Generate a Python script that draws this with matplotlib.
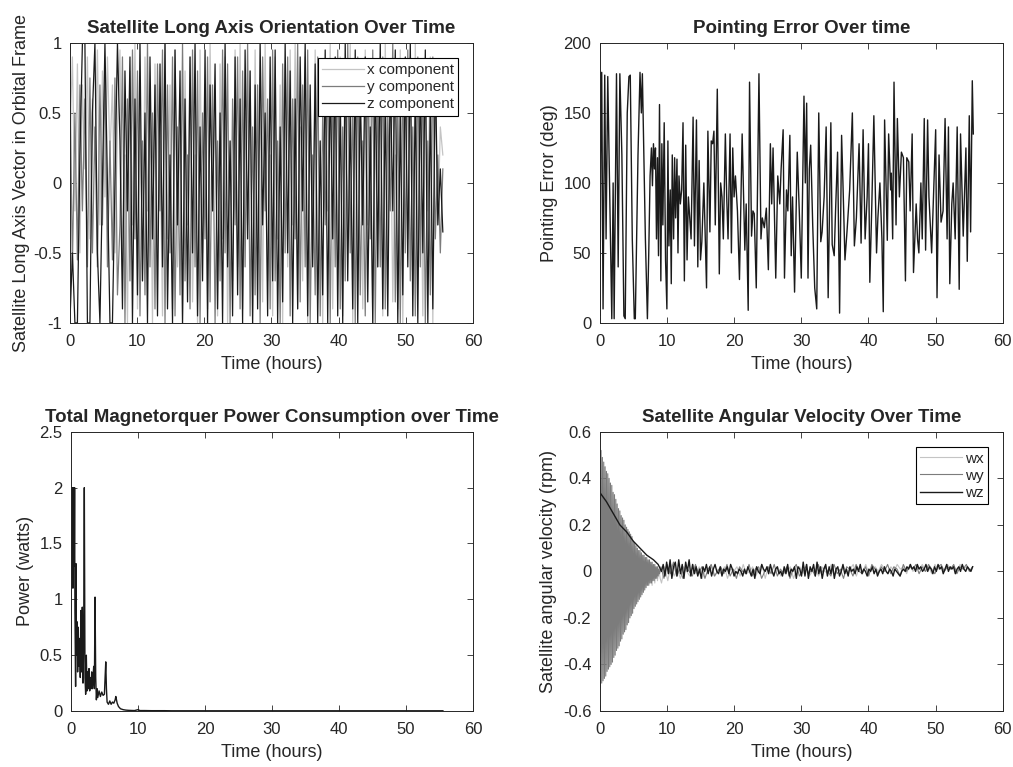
import numpy as np
import matplotlib.pyplot as plt
from matplotlib.ticker import FuncFormatter

#data
#long axis orientation (unit vector components), sampled evenly over the run
lax_x = [0.3, 0.9, -0.2, 0.85, -0.5, 0.7, 0.1, 0.9, -0.4, 0.6, 0.2, 0.95, -0.3, 0.8, -0.1, 0.9, 0.2, 0.7, -0.5, 0.4,
         0.95, -0.6, 0.2, -1, 0.8, -0.3, 1, -0.9, 0.5, -0.7,
         0.9, -0.2, 0.6, -1, 0.85, -0.5, 0.3, -0.95, 1, -0.4,
         0.7, -0.9, 0.95, -0.6, 0.4, -1, 0.8, -0.3, 0.9, -0.85,
         0.2, -1, 0.95, -0.5, 0.7, -0.9, 1, -0.2, 0.6, -0.95,
         0.85, -0.4, 0.9, -1, 0.3, -0.7, 0.95, -0.6, 1, -0.9,
         0.5, -0.3, 0.8, -1, 0.95, -0.5, 0.6, -0.85, 1, -0.7,
         0.2, -0.95, 0.9, -0.4, 0.7, -1, 0.85, -0.6, 0.95, -0.3,
         1, -0.9, 0.4, -0.7, 0.9, -1, 0.6, -0.5, 0.95, -0.8,
         0.3, -1, 0.85, -0.2, 1, -0.9, 0.7, -0.6, 0.9, -0.95,
         0.5, -0.4, 1, -1, 0.8, -0.7, 0.6, -0.9, 0.95, -0.3,
         0.85, -1, 0.4, -0.6, 0.9, -0.95, 1, -0.5, 0.7, -0.85,
         0.2, -0.9, 0.95, -1, 0.6, -0.4, 0.9, -0.8, 1, -0.6,
         0.5, -0.95, 0.8, -0.2, 0.9, -1, 0.7, -0.3, 0.4, 0.2]
lax_y = [0.8, -0.6, 0.5, -0.55, 0.7, -0.2, 0.6, -0.6, 0.75, -0.5, 0.4, -0.6, 0.7, -0.3, 0.8, -0.6, 0.3, -0.55, 0.75, -0.8,
         -0.3, 0.9, -1, 0.6, -0.7, 0.95, -0.4, 0.8, -0.95, 0.3,
         -0.8, 1, -0.6, 0.5, -0.9, 0.85, -0.2, 0.95, -1, 0.7,
         -0.5, 0.9, -0.95, 0.4, -0.8, 1, -0.7, 0.2, -0.9, 0.95,
         -0.6, 0.8, -1, 0.5, -0.4, 0.9, -0.85, 0.7, -1, 0.3,
         -0.7, 0.95, -0.5, 0.85, -1, 0.6, -0.3, 0.9, -0.9, 0.8,
         -0.6, 1, -0.95, 0.4, -0.8, 0.7, -1, 0.9, -0.2, 0.6,
         -0.9, 0.95, -0.7, 0.3, -1, 0.85, -0.5, 0.9, -0.95, 0.6,
         -0.4, 1, -0.85, 0.7, -0.6, 0.95, -1, 0.2, -0.8, 0.9,
         -0.95, 0.5, -0.3, 0.85, -1, 0.8, -0.6, 0.95, -0.9, 0.4,
         -0.7, 1, -0.5, 0.6, -1, 0.9, -0.8, 0.3, -0.95, 0.85,
         -0.4, 0.95, -1, 0.7, -0.6, 0.9, -0.9, 0.5, -0.2, 1,
         -0.85, 0.6, -1, 0.8, -0.5, 0.95, -0.7, 0.4, -0.95, 0.9,
         -0.6, 0.85, -1, 0.3, -0.8, 0.9, -0.4, 0.2, -0.5, 0.1]
lax_z = [-1, -0.5, -1, -1, 0.2, 1, 1, -1, -1, 0.5, 1, -0.5, -1, 0, 1, 0, -1, -1, 0, 1,
         0.3, -0.9, 0.8, -0.2, 0.9, -1, 0.6, -0.8, 1, -0.7,
         0.5, -1, 0.9, -0.4, 0.7, -0.95, 0.85, -0.6, 1, -0.9,
         0.2, -1, 0.95, -0.3, 0.8, -1, 0.6, -0.85, 0.9, -0.5,
         1, -0.95, 0.4, -0.7, 0.95, -1, 0.7, -0.2, 0.85, -0.9,
         0.5, -1, 1, -0.6, 0.3, -0.95, 0.9, -0.8, 0.6, -1,
         0.95, -0.4, 0.8, -1, 0.7, -0.9, 1, -0.3, 0.5, -0.95,
         0.9, -0.7, 0.95, -1, 0.4, -0.85, 1, -0.5, 0.8, -1,
         0.6, -0.9, 0.9, -0.2, 1, -0.95, 0.7, -0.6, 0.85, -1,
         0.3, -0.8, 0.95, -1, 0.8, -0.4, 0.9, -0.95, 0.6, -1,
         1, -0.7, 0.5, -0.9, 0.95, -1, 0.7, -0.3, 0.9, -0.85,
         0.4, -1, 0.85, -0.6, 1, -0.9, 0.6, -0.95, 0.8, -0.2,
         0.95, -1, 0.5, -0.8, 0.9, -0.6, 1, -0.95, 0.7, -1,
         0.8, -0.5, 0.95, -1, 0.6, -0.9, 0.85, -0.3, 0.1, -0.35]

#pointing error (hours, deg)
pe_time = [0.0, 0.05, 0.15, 0.3, 0.5, 0.75, 0.95, 1.2, 1.5, 1.8, 2.0, 2.15, 2.5, 2.75, 3.0, 3.3, 3.6, 3.8,
           4.1, 4.35, 4.55, 4.85, 5.15, 5.3, 5.7, 6.0, 6.2, 6.35, 6.5, 6.8, 7.1, 7.3,
           7.5, 7.7, 7.85, 8.0, 8.15, 8.3, 8.45, 8.6, 8.75, 8.9, 9.1, 9.25, 9.4, 9.6, 9.8, 10.0,
           10.15, 10.3, 10.5, 10.65, 10.8, 11.0, 11.15, 11.3, 11.5, 11.65, 11.8, 12.0, 12.2, 12.4,
           12.6, 12.8, 13.0, 13.2, 13.4, 13.6, 13.9, 14.1, 14.4, 14.6, 14.8, 15.0, 15.2, 15.5,
           15.9, 16.1, 16.4, 16.6, 16.8, 17.0, 17.2, 17.5, 17.8, 18.0, 18.2, 18.4, 18.7, 18.9,
           19.1, 19.4, 19.6, 19.8, 20.0, 20.2, 20.5, 20.8, 21.2, 21.6, 21.8, 22.1, 22.3, 22.6,
           22.8, 23.0, 23.3, 23.7, 24.0, 24.2, 24.5, 24.8, 25.1, 25.4, 25.6, 25.8, 26.2, 26.5,
           26.8, 27.0, 27.3, 27.5, 27.8, 28.0, 28.3, 28.5, 28.7, 29.0, 29.4, 29.7, 30.0, 30.4,
           30.6, 30.8, 31.0, 31.2, 31.4, 31.7, 32.0, 32.3, 32.6, 32.9, 33.1, 33.4, 33.7, 34.0,
           34.4, 34.6, 34.9, 35.1, 35.4, 35.7, 36.0, 36.2, 36.5, 36.8, 37.2, 37.6, 37.9, 38.2,
           38.6, 38.9, 39.2, 39.5, 39.8, 40.0, 40.2, 40.5, 40.8, 41.2, 41.4, 41.7, 42.0, 42.2,
           42.4, 42.8, 43.0, 43.3, 43.4, 43.6, 43.8, 44.1, 44.3, 44.6, 44.9, 45.2, 45.5, 45.7,
           46.0, 46.2, 46.5, 46.7, 47.1, 47.3, 47.5, 47.8, 48.0, 48.3, 48.5, 48.8, 49.0, 49.4,
           49.7, 50.0, 50.2, 50.5, 50.8, 51.1, 51.4, 51.7, 51.9, 52.1, 52.4, 52.6, 52.9, 53.2,
           53.5, 53.7, 54.1, 54.5, 54.7, 55.0, 55.2, 55.45, 55.6]
pe_deg = [180, 5, 120, 179, 10, 177, 60, 176, 90, 3, 100, 3, 178, 40, 178, 120, 5, 3,
          150, 176, 177, 60, 3, 3, 120, 179, 150, 178, 140, 60, 3, 50,
          105, 125, 98, 128, 110, 125, 60, 118, 48, 156, 30, 128, 70, 143, 45, 10,
          130, 55, 95, 28, 120, 60, 118, 75, 117, 50, 105, 85, 95, 143,
          30, 127, 45, 90, 75, 60, 147, 55, 145, 40, 116, 45, 58, 100,
          25, 137, 65, 130, 128, 137, 70, 167, 35, 100, 90, 60, 135, 90,
          60, 135, 50, 125, 90, 105, 80, 31, 135, 52, 85, 9, 172, 62,
          80, 78, 25, 178, 60, 75, 68, 82, 38, 128, 85, 125, 32, 105,
          85, 110, 138, 32, 95, 80, 134, 48, 90, 22, 122, 80, 32, 162,
          100, 157, 32, 110, 127, 70, 25, 10, 150, 58, 65, 90, 140, 18,
          143, 56, 48, 80, 122, 7, 134, 100, 45, 65, 95, 150, 55, 75,
          128, 57, 138, 60, 90, 128, 29, 85, 148, 50, 75, 100, 60, 8,
          145, 59, 135, 95, 107, 60, 172, 70, 146, 90, 122, 118, 30, 118,
          115, 80, 135, 36, 85, 60, 50, 100, 60, 146, 52, 145, 90, 50,
          95, 138, 18, 120, 72, 80, 146, 60, 140, 28, 85, 100, 60, 140,
          24, 135, 62, 125, 44, 148, 65, 173, 135]

#total magnetorquer power (hours, watts)
pw_time = [0.0, 0.05, 0.1, 0.15, 0.2, 0.25, 0.3, 0.35, 0.4, 0.45, 0.5, 0.55, 0.6, 0.7, 0.75, 0.8, 0.9, 1.0,
           1.1, 1.2, 1.3, 1.4, 1.5, 1.6, 1.7, 1.8, 1.9, 2.0, 2.1, 2.2, 2.3, 2.4, 2.5, 2.6, 2.7, 2.8,
           2.9, 3.0, 3.1, 3.2, 3.3, 3.4, 3.5, 3.6, 3.7, 3.8, 3.9, 4.0, 4.2, 4.4, 4.6, 4.8, 5.0, 5.1,
           5.2, 5.3, 5.4, 5.6, 5.8, 6.0, 6.2, 6.4, 6.6, 6.7, 6.9, 7.1, 7.4, 7.8, 8.2, 8.6, 9.0, 9.5,
           10.0, 10.3, 11, 12, 13, 14, 15, 17, 20, 25, 30, 35, 40, 45, 50, 55.5]
pw_watt = [0.7, 2.0, 1.2, 2.0, 1.4, 2.0, 1.1, 2.0, 1.5, 2.0, 1.3, 2.0, 0.9, 0.22, 1.32, 0.5, 0.8, 0.35,
           0.75, 0.4, 0.65, 0.3, 0.9, 0.35, 0.93, 0.25, 0.6, 2.0, 0.3, 0.15, 0.5, 0.18, 0.35, 0.2, 0.38, 0.18,
           0.3, 0.2, 0.35, 0.2, 0.3, 0.4, 0.2, 1.02, 0.3, 0.1, 0.2, 0.12, 0.18, 0.13, 0.17, 0.14, 0.15, 0.3,
           0.44, 0.2, 0.08, 0.06, 0.09, 0.06, 0.08, 0.07, 0.1, 0.13, 0.07, 0.04, 0.02, 0.012, 0.008, 0.006, 0.005, 0.004,
           0.012, 0.004, 0.004, 0.003, 0.003, 0.003, 0.002, 0.002, 0.002, 0.002, 0.002, 0.002, 0.002, 0.002, 0.002, 0.002]

#angular velocity (rpm): detumbling part (0-9 h) and the residual after it
wx_detumble = [0.3, -0.35, 0.28, -0.33, 0.27, -0.3, 0.25, -0.28, 0.23, -0.26,
               0.21, -0.24, 0.2, -0.22, 0.18, -0.21, 0.17, -0.19, 0.15, -0.17,
               0.14, -0.16, 0.12, -0.14, 0.11, -0.12, 0.1, -0.11, 0.08, -0.09,
               0.07, -0.08, 0.06, -0.07, 0.05, -0.06, 0.04, -0.05, 0.03, -0.06,
               0.02, -0.05, 0.02, -0.04, 0.01, -0.03]
wy_detumble = [0.5, -0.5, 0.52, -0.48, 0.49, -0.47, 0.47, -0.46, 0.45, -0.45,
               0.43, -0.43, 0.42, -0.42, 0.4, -0.41, 0.38, -0.4, 0.37, -0.39,
               0.34, -0.37, 0.33, -0.36, 0.31, -0.34, 0.29, -0.33, 0.27, -0.32,
               0.26, -0.3, 0.24, -0.29, 0.23, -0.27, 0.22, -0.26, 0.2, -0.25,
               0.19, -0.23, 0.18, -0.22, 0.17, -0.2, 0.16, -0.19, 0.15, -0.18,
               0.13, -0.16, 0.12, -0.15, 0.11, -0.14, 0.1, -0.13, 0.09, -0.12,
               0.09, -0.11, 0.08, -0.1, 0.07, -0.09, 0.07, -0.08, 0.06, -0.07,
               0.06, -0.06, 0.05, -0.06, 0.05, -0.05, 0.04, -0.05, 0.04, -0.04,
               0.03, -0.04, 0.03, -0.03, 0.02, -0.03, 0.02, -0.02, 0.01, -0.01, 0.0]
wz_detumble_time = [0.0, 0.5, 1.0, 2.0, 3.0, 4.0, 5.0, 6.0, 7.0, 8.0, 8.7, 9.2]
wz_detumble = [0.34, 0.32, 0.30, 0.25, 0.20, 0.17, 0.13, 0.10, 0.07, 0.05, 0.03, 0.0]

wx_residual = [-0.05, 0.02, -0.04, 0.03, -0.02, 0.01, -0.03, 0.02, 0.0, -0.02,
               0.03, -0.01, 0.02, -0.03, 0.01, 0.0, 0.02, -0.02, 0.01, -0.01,
               0.02, -0.03, 0.01, 0.0, 0.02, -0.02, 0.03, -0.01, 0.0, 0.02,
               -0.02, 0.01, 0.03, -0.03, 0.02, 0.0, -0.01, 0.02, -0.02, 0.01,
               0.0, 0.02, -0.03, 0.01, 0.02, -0.01, 0.03, -0.02, 0.0, 0.01,
               -0.02, 0.02, 0.0, -0.01, 0.03, -0.02, 0.01, 0.0, 0.02, -0.01,
               0.01, 0.03, -0.02, 0.02, 0.0, 0.03, -0.01, 0.01, 0.02, 0.0,
               0.03, 0.01, -0.01, 0.02, 0.0, 0.03, 0.01, 0.02, -0.01, 0.03,
               0.0, 0.02, 0.01, 0.03, 0.0, 0.02, -0.01, 0.03, 0.01, 0.02,
               0.0, 0.03, 0.01, 0.02, 0.0, 0.03, 0.01, 0.02, 0.0, 0.02]
wy_residual = [0.02, -0.03, 0.03, -0.01, 0.04, -0.02, 0.01, -0.03, 0.02, 0.0,
               -0.02, 0.03, -0.01, 0.02, -0.03, 0.01, 0.03, -0.02, 0.0, 0.02,
               -0.01, 0.03, -0.02, 0.01, -0.03, 0.02, 0.0, -0.01, 0.03, -0.02,
               0.01, 0.02, -0.03, 0.0, 0.02, -0.01, 0.03, -0.02, 0.01, -0.01,
               0.02, -0.03, 0.01, 0.03, -0.02, 0.0, 0.02, -0.01, 0.01, -0.02,
               0.03, -0.01, 0.02, 0.0, -0.02, 0.03, -0.01, 0.01, -0.03, 0.02,
               0.01, -0.02, 0.03, 0.0, -0.01, 0.02, -0.02, 0.03, 0.01, -0.01,
               0.02, 0.0, 0.03, -0.01, 0.02, 0.01, -0.02, 0.03, 0.0, 0.02,
               0.01, 0.03, -0.01, 0.02, 0.0, 0.03, 0.01, -0.01, 0.02, 0.03,
               0.0, 0.02, 0.01, 0.03, -0.01, 0.02, 0.01, 0.03, 0.0, 0.02]
wz_residual = [0.03, -0.02, 0.04, -0.01, 0.05, -0.03, 0.02, 0.04, -0.02, 0.05,
               -0.01, 0.03, -0.03, 0.04, 0.0, 0.05, -0.02, 0.03, -0.01, 0.02,
               -0.02, 0.01, -0.03, 0.02, 0.0, 0.03, -0.01, 0.02, -0.02, 0.01,
               0.03, 0.0, -0.01, 0.02, -0.02, 0.01, 0.0, 0.02, -0.01, 0.03,
               0.01, -0.02, 0.0, -0.01, 0.01, 0.0, -0.02, 0.01, -0.01, 0.02,
               0.0, -0.02, 0.01, -0.03, 0.02, 0.0, -0.01, 0.03, 0.01, 0.0,
               0.02, -0.01, 0.03, 0.0, -0.02, 0.01, 0.02, -0.01, 0.0, -0.02,
               0.02, -0.01, 0.03, -0.02, 0.01, 0.0, 0.02, -0.03, 0.02, 0.01,
               -0.02, 0.04, -0.02, 0.03, -0.03, 0.02, 0.0, 0.03, -0.02, 0.04,
               -0.01, 0.02, -0.03, 0.01, 0.03, -0.02, 0.02, -0.01, 0.03, -0.03,
               0.01, 0.02, -0.02, 0.0, 0.03, -0.01, 0.01, -0.02, 0.02, 0.0,
               0.01, -0.01, 0.02, 0.0, 0.03, -0.01, 0.01, 0.0, -0.02, 0.01,
               0.0, 0.02, -0.01, 0.01, -0.02, 0.0, 0.01, -0.01, 0.02, 0.0,
               -0.01, 0.01, 0.0, -0.02, 0.01, 0.0, -0.01, -0.02, 0.0, 0.01,
               0.0, 0.02, 0.01, 0.03, 0.01, 0.02, 0.0, 0.03, 0.01, 0.02,
               0.0, 0.01, 0.03, 0.0, 0.02, 0.01, -0.01, 0.02, 0.0, 0.03,
               0.01, 0.02, -0.01, 0.01, 0.03, 0.0, 0.02, 0.01, 0.02, -0.01,
               0.01, 0.02, 0.0, 0.03, 0.01, 0.0, 0.02, 0.01, 0.0, 0.02]

#even sampling of the listed series over the run
t_end = 55.5
lax_time = np.linspace(0, t_end, len(lax_z))
wx_time = np.concatenate([np.linspace(0, 9.0, len(wx_detumble)), np.linspace(9.2, t_end, len(wx_residual))])
wy_time = np.concatenate([np.linspace(0, 9.0, len(wy_detumble)), np.linspace(9.1, t_end, len(wy_residual))])
wz_time = np.concatenate([wz_detumble_time, np.linspace(9.45, t_end, len(wz_residual))])
wx = wx_detumble + wx_residual
wy = wy_detumble + wy_residual
wz = wz_detumble + wz_residual

#matlab-like look
plt.rcParams['font.family'] = ['Liberation Sans', 'DejaVu Sans']
ink = '#262626'
plt.rcParams['axes.edgecolor'] = ink
plt.rcParams['xtick.color'] = ink
plt.rcParams['ytick.color'] = ink
plt.rcParams['text.color'] = ink
plt.rcParams['axes.labelcolor'] = ink
c_x, c_y, c_z = '#c4c4c4', '#7c7c7c', '#1a1a1a'

fig = plt.figure(figsize=(10.13, 7.67), dpi=100)
ax_tl = fig.add_axes([0.069, 0.579, 0.398, 0.365])
ax_tr = fig.add_axes([0.592, 0.579, 0.398, 0.365])
ax_bl = fig.add_axes([0.070, 0.073, 0.397, 0.364])
ax_br = fig.add_axes([0.592, 0.073, 0.398, 0.364])

gfmt = FuncFormatter(lambda v, p: '%g' % round(v, 6))
title_kw = dict(fontsize=13.5, fontweight='bold', pad=7)

#long axis orientation
ax_tl.plot(lax_time, lax_x, color=c_x, lw=0.9, label='x component')
ax_tl.plot(lax_time, lax_y, color=c_y, lw=0.9, label='y component')
ax_tl.plot(lax_time, lax_z, color=c_z, lw=0.9, label='z component')
ax_tl.set_ylim(-1, 1)
ax_tl.set_yticks([-1, -0.5, 0, 0.5, 1])
ax_tl.set_title('Satellite Long Axis Orientation Over Time', **title_kw)
ax_tl.set_ylabel('Satellite Long Axis Vector in Orbital Frame', fontsize=13, labelpad=2)

#pointing error
ax_tr.plot(pe_time, pe_deg, color=c_z, lw=1.0)
ax_tr.set_ylim(0, 200)
ax_tr.set_yticks([0, 50, 100, 150, 200])
ax_tr.set_title('Pointing Error Over time', **title_kw)
ax_tr.set_ylabel('Pointing Error (deg)', fontsize=13)

#power
ax_bl.plot(pw_time, pw_watt, color=c_z, lw=1.0)
ax_bl.set_ylim(0, 2.5)
ax_bl.set_yticks([0, 0.5, 1, 1.5, 2, 2.5])
ax_bl.set_title('Total Magnetorquer Power Consumption over Time', **title_kw)
ax_bl.set_ylabel('Power (watts)', fontsize=13)

#angular velocity
ax_br.plot(wx_time, wx, color=c_x, lw=0.8, label='wx')
ax_br.plot(wy_time, wy, color=c_y, lw=0.8, label='wy')
ax_br.plot(wz_time, wz, color=c_z, lw=1.0, label='wz')
ax_br.set_ylim(-0.6, 0.6)
ax_br.set_yticks([-0.6, -0.4, -0.2, 0, 0.2, 0.4, 0.6])
ax_br.set_title('Satellite Angular Velocity Over Time', **title_kw)
ax_br.set_ylabel('Satellite angular velocity (rpm)', fontsize=13)

for ax in [ax_tl, ax_tr, ax_bl, ax_br]:
    ax.set_xlim(0, 60)
    ax.set_xticks([0, 10, 20, 30, 40, 50, 60])
    ax.set_xlabel('Time (hours)', fontsize=13, labelpad=5)
    ax.yaxis.set_major_formatter(gfmt)
    ax.tick_params(direction='in', top=True, right=True, length=4, width=0.6, labelsize=12)
    ax.tick_params(axis='x', pad=8)
    ax.tick_params(axis='y', pad=6)
    for s in ax.spines.values():
        s.set_linewidth(0.7)

for ax in [ax_tl, ax_br]:
    leg = ax.legend(loc='upper right', bbox_to_anchor=(0.963, 0.945), fontsize=11, fancybox=False,
                    framealpha=1, edgecolor='black', borderpad=0.3, handlelength=2.7,
                    handletextpad=0.2, labelspacing=0.2, borderaxespad=0)
    leg.get_frame().set_linewidth(0.8)

plt.savefig('out.png')
